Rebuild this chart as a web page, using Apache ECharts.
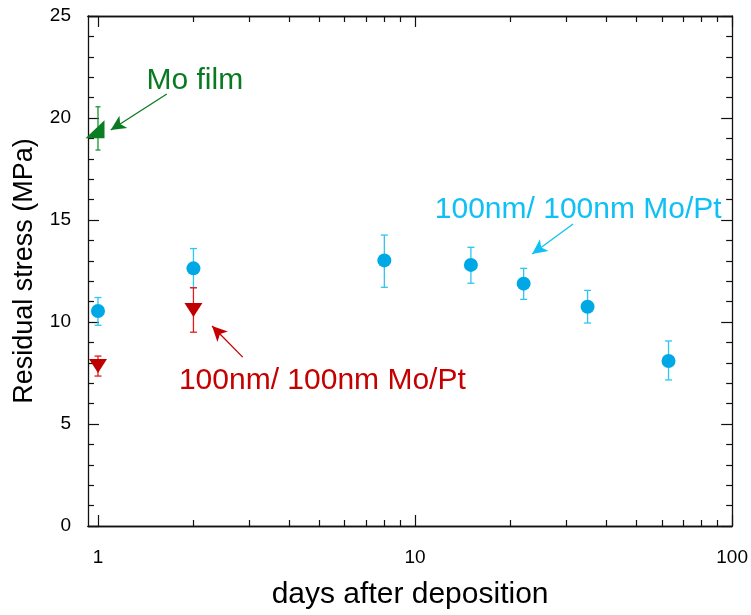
<!DOCTYPE html>
<html>
<head>
<meta charset="utf-8">
<script src="https://cdn.jsdelivr.net/npm/echarts@6/dist/echarts.min.js"></script>
<style>
  html, body { margin: 0; padding: 0; background: #fff; }
  #chart { width: 751px; height: 615px; }
</style>
</head>
<body>
<div id="chart"></div>
<script>
// Residual stress (MPa) vs. days after deposition

// 100nm / 100nm Mo/Pt bilayer (cyan circles)
const bilayerDays = [1, 2, 8, 15, 22, 35, 63];
const bilayerStress = [10.54, 12.63, 13.02, 12.8, 11.88, 10.75, 8.09];
const bilayerLow = [9.84, 11.68, 11.70, 11.9, 11.11, 9.95, 7.16];
const bilayerHigh = [11.2, 13.6, 14.26, 13.66, 12.63, 11.55, 9.07];

// 100nm / 100nm Mo/Pt, second batch (red down-triangles)
const batchDays = [1, 2];
const batchStress = [7.84, 10.59];
const batchLow = [7.35, 9.50];
const batchHigh = [8.33, 11.68];

// Mo film (green)
const filmDays = [1];
const filmStress = [19.45];
const filmLow = [18.43];
const filmHigh = [20.55];

// axis ticks
const xMajorTicks = [1, 10, 100];
const xMinorTicks = [2, 3, 4, 5, 6, 7, 8, 9, 20, 30, 40, 50, 60, 70, 80, 90];
const xRange = [0.93, 100];
const yRange = [0, 25];

// annotations: text anchor and arrow (tail -> head) in data coordinates
const noteTexts = ['Mo film', '100nm/ 100nm Mo/Pt', '100nm/ 100nm Mo/Pt'];
const noteAnchors = [[2.02, 21.83], [32.7, 15.5], [5.10, 7.11]];
const arrowTails = [[1.648, 21.18], [31.5, 14.8], [2.86, 8.28]];
const arrowHeads = [[1.097, 19.41], [23.4, 13.33], [2.29, 9.80]];
const noteColors = ['#0a7a22', '#10c0f4', '#c40000'];

const FONT = "'Liberation Sans', Arial, Helvetica, sans-serif";
const AXIS_COLOR = '#111';

function zip(xs, ys) { return xs.map((x, i) => [x, ys[i]]); }

function errorBars(days, low, high, color, hw) {
  return {
    type: 'custom',
    z: 2,
    silent: true,
    clip: false,
    data: days.map((d, i) => [d, low[i], high[i]]),
    encode: { x: 0, y: [1, 2] },
    renderItem(params, api) {
      const x = api.value(0);
      const lo = api.coord([x, api.value(1)]);
      const hi = api.coord([x, api.value(2)]);
      const style = { stroke: color, lineWidth: 1.3, fill: null };
      return {
        type: 'group',
        children: [
          { type: 'line', shape: { x1: lo[0], y1: lo[1], x2: hi[0], y2: hi[1] }, style },
          { type: 'line', shape: { x1: lo[0] - hw, y1: lo[1], x2: lo[0] + hw, y2: lo[1] }, style },
          { type: 'line', shape: { x1: hi[0] - hw, y1: hi[1], x2: hi[0] + hw, y2: hi[1] }, style }
        ]
      };
    }
  };
}

function xAxisDef(position, ticks, len, labels, extra) {
  return Object.assign({
    type: 'log',
    logBase: 10,
    position: position,
    min: xRange[0],
    max: xRange[1],
    axisLine: { show: true, onZero: false, lineStyle: { color: AXIS_COLOR, width: 1.3 } },
    axisTick: { show: true, inside: true, length: len, customValues: ticks, lineStyle: { color: AXIS_COLOR, width: 1.2 } },
    axisLabel: labels
      ? { show: true, customValues: xMajorTicks, fontSize: 19, color: '#000', fontFamily: FONT, margin: 22 }
      : { show: false },
    splitLine: { show: false },
    minorTick: { show: false },
    minorSplitLine: { show: false }
  }, extra || {});
}

function yAxisDef(position, labels, extra) {
  return Object.assign({
    type: 'value',
    position: position,
    min: yRange[0],
    max: yRange[1],
    interval: 5,
    axisLine: { show: true, onZero: false, lineStyle: { color: AXIS_COLOR, width: 1.3 } },
    axisTick: { show: true, inside: true, length: 11, lineStyle: { color: AXIS_COLOR, width: 1.2 } },
    minorTick: { show: true, splitNumber: 5, length: 6, lineStyle: { color: AXIS_COLOR, width: 1.2 } },
    axisLabel: labels
      ? { show: true, fontSize: 19, color: '#000', fontFamily: FONT, margin: 17, padding: [6, 0, 0, 0] }
      : { show: false },
    splitLine: { show: false },
    minorSplitLine: { show: false }
  }, extra || {});
}

const annotationSeries = noteTexts.map((t, i) => ({
  type: 'scatter',
  z: 5,
  silent: true,
  symbolSize: 1,
  itemStyle: { color: 'rgba(0,0,0,0)' },
  data: [{ value: noteAnchors[i], name: t }],
  label: {
    show: true,
    position: 'inside',
    formatter: '{b}',
    fontSize: 30,
    fontFamily: FONT,
    color: noteColors[i],
    textBorderWidth: 0,
    textBorderColor: 'transparent',
    opacity: 1,
    align: 'center',
    verticalAlign: 'middle'
  },
  markLine: {
    silent: true,
    symbol: ['none', 'arrow'],
    symbolSize: [11, 15],
    label: { show: false },
    lineStyle: { color: noteColors[i], width: 1.3, type: 'solid', opacity: 1 },
    emphasis: { disabled: true },
    data: [[{ coord: arrowTails[i] }, { coord: arrowHeads[i] }]]
  }
}));

const option = {
  animation: false,
  backgroundColor: '#fff',
  grid: { left: 88, right: 18, top: 16, bottom: 89, containLabel: false },
  xAxis: [
    xAxisDef('bottom', xMajorTicks, 11, true, {
      name: 'days after deposition',
      nameLocation: 'middle',
      nameGap: 54,
      nameTextStyle: { fontSize: 30, fontFamily: FONT, color: '#000' }
    }),
    xAxisDef('bottom', xMinorTicks, 6, false),
    xAxisDef('top', xMajorTicks, 11, false),
    xAxisDef('top', xMinorTicks, 6, false)
  ],
  yAxis: [
    yAxisDef('left', true, {
      name: 'Residual stress (MPa)',
      nameLocation: 'middle',
      nameGap: 50,
      nameTextStyle: { fontSize: 27, fontFamily: FONT, color: '#000' }
    }),
    yAxisDef('right', false)
  ],
  series: [
    errorBars(bilayerDays, bilayerLow, bilayerHigh, '#2cc6f5', 3.5),
    errorBars(batchDays, batchLow, batchHigh, '#e41b1b', 3.5),
    errorBars(filmDays, filmLow, filmHigh, '#17962f', 2.5),
    {
      type: 'scatter',
      z: 3,
      symbol: 'circle',
      symbolSize: 14,
      itemStyle: { color: '#00a9e6', opacity: 1 },
      data: zip(bilayerDays, bilayerStress)
    },
    {
      type: 'scatter',
      z: 3,
      symbol: 'triangle',
      symbolRotate: 180,
      symbolSize: [18, 14],
      itemStyle: { color: '#c00000', opacity: 1 },
      data: zip(batchDays, batchStress)
    },
    {
      type: 'scatter',
      z: 3,
      symbol: 'path://M1,0L1,1L0,1Z',
      symbolKeepAspect: false,
      symbolSize: [19, 18],
      symbolOffset: [-3, 0],
      clip: false,
      itemStyle: { color: '#0b7d22', opacity: 1 },
      data: zip(filmDays, filmStress)
    }
  ].concat(annotationSeries)
};

const chart = echarts.init(document.getElementById('chart'), null, { renderer: 'canvas' });
chart.setOption(option);
</script>
</body>
</html>
